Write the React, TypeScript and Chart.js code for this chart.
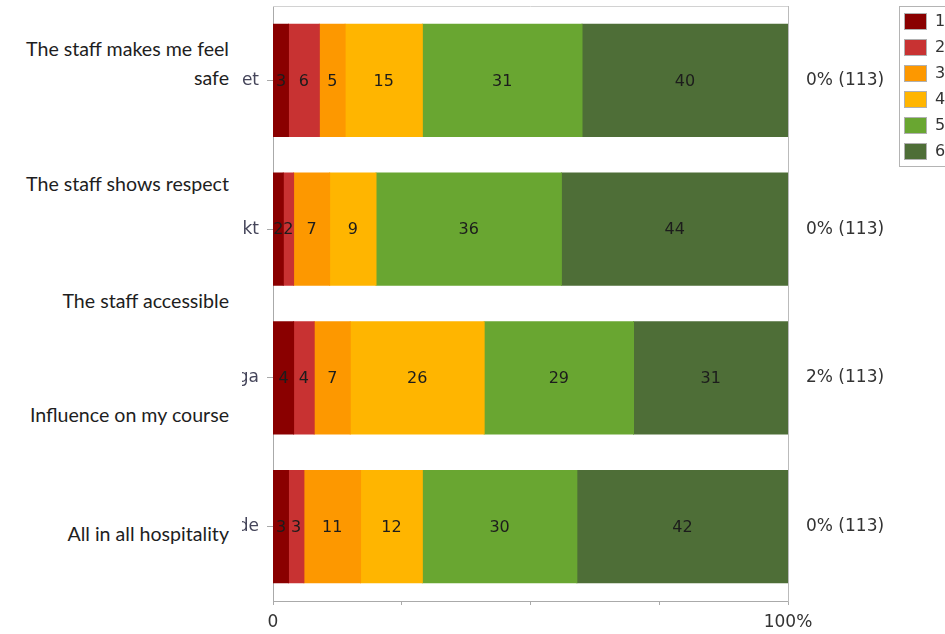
import { useEffect, useRef } from "react";
import { Chart, registerables } from "chart.js";

Chart.register(...registerables);

// Survey items (short keys on the axis) and the share of "no answer" per item
const categories = ["et", "kt", "ga", "de"];
const noAnswer = ["0% (113)", "0% (113)", "2% (113)", "0% (113)"];

// English statements shown in the left margin
const statements = [
  "The staff makes me feel\nsafe",
  "The staff shows respect",
  "The staff accessible",
  "Influence on my course",
  "All in all hospitality",
];

// Rating scale 1..6, percentage of respondents per item
const seriesNames = ["1", "2", "3", "4", "5", "6"];
const score1 = [3, 2, 4, 3];
const score2 = [6, 2, 4, 3];
const score3 = [5, 7, 7, 11];
const score4 = [15, 9, 26, 12];
const score5 = [31, 36, 29, 30];
const score6 = [40, 44, 31, 42];
const seriesValues = [score1, score2, score3, score4, score5, score6];

const xTickLabels: Record<number, string> = { 0: "0", 100: "100%" };

const fillColors = ["#8a0000", "#c83232", "#fd9800", "#ffb500", "#69a631", "#4e6e37"];

// Vertical centres (px) of the statement blocks in the left margin
const statementCentres = [63, 183, 300, 414, 533];
const LINE_H = 29;

const SANS = "'DejaVu Sans', Verdana, sans-serif";

const valueLabels = {
  id: "valueLabels",
  afterDatasetsDraw(chart: any) {
    const { ctx, chartArea } = chart;
    ctx.save();
    ctx.font = `16px ${SANS}`;
    ctx.fillStyle = "#1c1c1c";
    ctx.textAlign = "center";
    ctx.textBaseline = "middle";
    chart.data.datasets.forEach((ds: any, di: number) => {
      const meta = chart.getDatasetMeta(di);
      meta.data.forEach((el: any, i: number) => {
        const { x, y, base } = el.getProps(["x", "y", "base"], true);
        const right = Math.min(x, chartArea.right);
        ctx.fillText(String(ds.data[i]), (base + right) / 2, y + 1);
      });
    });
    ctx.restore();
  },
};

const frameAndLegend = {
  id: "frameAndLegend",
  afterDraw(chart: any) {
    const { ctx, chartArea } = chart;
    ctx.save();
    // top edge of the plot
    ctx.strokeStyle = "#d2d2d2";
    ctx.lineWidth = 1;
    ctx.beginPath();
    ctx.moveTo(chartArea.left, chartArea.top + 0.5);
    ctx.lineTo(chartArea.right, chartArea.top + 0.5);
    ctx.stroke();

    // legend box
    const lx = 899.5;
    const ly = 6.5;
    ctx.fillStyle = "#ffffff";
    ctx.fillRect(lx, ly, 60, 160);
    ctx.strokeStyle = "#b4b4b4";
    ctx.strokeRect(lx, ly, 60, 160);
    ctx.font = `16px ${SANS}`;
    ctx.textAlign = "left";
    ctx.textBaseline = "middle";
    chart.data.datasets.forEach((ds: any, i: number) => {
      const top = 13 + i * 26;
      ctx.fillStyle = ds.backgroundColor;
      ctx.fillRect(904, top, 23, 17);
      ctx.strokeStyle = "#b0b0b0";
      ctx.strokeRect(904.5, top + 0.5, 22, 16);
      ctx.fillStyle = "#333";
      ctx.fillText(ds.label, 935, top + 9);
    });
    ctx.restore();
  },
};

const noEdgePadding = (s: any) => {
  s.paddingTop = 0;
  s.paddingBottom = 0;
};

export default function App() {
  const canvasRef = useRef<HTMLCanvasElement | null>(null);

  useEffect(() => {
    const canvas = canvasRef.current;
    if (!canvas) return;
    const chart = new Chart(canvas, {
      type: "bar",
      data: {
        labels: categories,
        datasets: seriesValues.map((vals, i) => ({
          label: seriesNames[i],
          data: vals,
          backgroundColor: fillColors[i],
          borderWidth: 0,
          inflateAmount: 0.5,
          categoryPercentage: 1,
          barPercentage: 0.755,
          yAxisID: "y",
        })),
      },
      options: {
        indexAxis: "y",
        animation: false,
        responsive: false,
        devicePixelRatio: 1,
        layout: { padding: { top: 6, left: 0, right: 0, bottom: 0 } },
        plugins: {
          legend: { display: false },
          tooltip: { enabled: false },
        },
        scales: {
          x: {
            stacked: true,
            min: 0,
            max: 100,
            afterFit: (s: any) => {
              s.height = 33;
              s.paddingLeft = 0;
              s.paddingRight = 0;
            },
            ticks: {
              stepSize: 25,
              autoSkip: false,
              maxRotation: 0,
              padding: 7,
              color: "#333",
              font: { family: SANS, size: 17 },
              callback: (v: any) => xTickLabels[Number(v)] ?? "",
            },
            grid: { drawOnChartArea: false, tickLength: 4, color: "#aaaaaa" },
            border: { color: "#aaaaaa" },
          },
          y: {
            stacked: true,
            position: "left",
            afterFit: (s: any) => {
              s.width = 273;
              noEdgePadding(s);
            },
            ticks: {
              padding: 8,
              color: "#45455a",
              font: { family: SANS, size: 17 },
            },
            grid: { offset: false, drawOnChartArea: false, tickLength: 6, color: "#aaaaaa" },
            border: { color: "#aaaaaa" },
          },
          yRight: {
            type: "category",
            labels: noAnswer,
            position: "right",
            offset: true,
            afterFit: (s: any) => {
              s.width = 157;
              noEdgePadding(s);
            },
            ticks: {
              padding: 18,
              color: "#333",
              font: { family: SANS, size: 17 },
            },
            grid: { drawOnChartArea: false, drawTicks: false, color: "#bbbbbb" },
            border: { color: "#bbbbbb" },
          },
        },
      },
      plugins: [valueLabels, frameAndLegend],
    } as any);
    return () => chart.destroy();
  }, []);

  return (
    <div style={{ position: "absolute", left: 0, top: 0, width: 945, height: 634, background: "#fff", overflow: "hidden" }}>
      <canvas ref={canvasRef} width={945} height={634} style={{ position: "absolute", left: 0, top: 0 }} />
      <div style={{ position: "absolute", left: 0, top: 0, width: 242, height: 634, background: "#fff" }}>
        {statements.map((text, i) => {
          const lines = text.split("\n").length;
          return (
            <div
              key={i}
              style={{
                position: "absolute",
                right: 13,
                top: statementCentres[i] - (lines * LINE_H) / 2,
                width: 240,
                textAlign: "right",
                whiteSpace: "pre-line",
                lineHeight: `${LINE_H}px`,
                fontFamily: "Lato, 'Open Sans', sans-serif",
                fontSize: 19.6,
                color: "#1e1e1e",
              }}
            >
              {text}
            </div>
          );
        })}
      </div>
    </div>
  );
}
